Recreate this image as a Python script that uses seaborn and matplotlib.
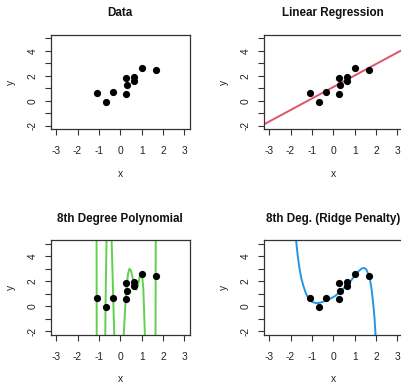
import numpy as np
import pandas as pd
import matplotlib
matplotlib.use("Agg")
import matplotlib.pyplot as plt
import seaborn as sns

# ---- data ----
x_obs = [-1.11, -0.69, -0.33, 0.26, 0.30, 0.29, 0.62, 0.66, 1.02, 1.66]
y_obs = [0.66, -0.06, 0.71, 0.58, 1.24, 1.85, 1.93, 1.61, 2.62, 2.45]

# ridge-penalised 8th degree fit
ridge_x = [-1.74, -1.70, -1.65, -1.58, -1.50, -1.40, -1.28, -1.15, -1.00, -0.85,
           -0.70, -0.55, -0.35, -0.10, 0.10, 0.30, 0.55, 0.80, 1.00, 1.20,
           1.35, 1.45, 1.55, 1.65, 1.73, 1.80, 1.87, 1.93, 1.98]
ridge_y = [5.32, 4.65, 3.90, 3.05, 2.30, 1.65, 1.05, 0.62, 0.38, 0.28,
           0.27, 0.33, 0.46, 0.65, 0.85, 1.15, 1.55, 2.00, 2.45, 2.85,
           3.05, 3.08, 2.95, 2.55, 2.05, 1.30, 0.20, -0.90, -2.30]

x_ticks = [-3, -2, -1, 0, 1, 2, 3]
y_ticks = [-2, -1, 0, 1, 2, 3, 4, 5]
y_ticklabels = ["-2", "", "0", "", "2", "", "4", ""]
titles = ["Data", "Linear Regression", "8th Degree Polynomial", "8th Deg. (Ridge Penalty)"]

df = pd.DataFrame({"x": x_obs, "y": y_obs})

sns.set_style("ticks")
plt.rcParams["font.family"] = ["Liberation Sans", "DejaVu Sans"]

W, H = 402, 383
fig = plt.figure(figsize=(W / 100, H / 100), dpi=100)
fig.patch.set_facecolor("white")


def add_ax(l, t, w=138.5, h=94.4):
    return fig.add_axes([l / W, 1 - (t + h) / H, w / W, h / H])


XLIM = (-3.24, 3.24)
YLIM = (-2.28, 5.28)

axes = [add_ax(51, 35), add_ax(264, 35), add_ax(51, 240.5), add_ax(264, 240.5)]

for ax in axes:
    ax.set_xlim(*XLIM)
    ax.set_ylim(*YLIM)

# linear regression
sns.regplot(data=df, x="x", y="y", ax=axes[1], scatter=False, ci=None,
            truncate=False, color="#DF536B", line_kws={"linewidth": 1.4})
# 8th degree polynomial
sns.regplot(data=df, x="x", y="y", ax=axes[2], scatter=False, ci=None,
            truncate=False, order=8, color="#61D04F", line_kws={"linewidth": 1.4})
# ridge curve
sns.lineplot(x=ridge_x, y=ridge_y, ax=axes[3], sort=False, estimator=None,
             color="#2297E6", linewidth=1.4)

for ax, title in zip(axes, titles):
    sns.scatterplot(data=df, x="x", y="y", ax=ax, color="black", s=27,
                    linewidth=0, zorder=3)
    ax.set_xlim(*XLIM)
    ax.set_ylim(*YLIM)
    ax.set_xticks(x_ticks)
    ax.set_xticklabels([str(v) for v in x_ticks])
    ax.set_yticks(y_ticks)
    ax.set_yticklabels(y_ticklabels, rotation=90, va="center")
    ax.tick_params(axis="both", direction="out", length=4.0, width=0.8,
                   color="#333333", labelcolor="#222222", labelsize=7.4)
    ax.tick_params(axis="x", pad=8.0)
    ax.tick_params(axis="y", pad=5.8)
    for s in ax.spines.values():
        s.set_color("#333333")
        s.set_linewidth(0.9)
        s.set_visible(True)
    ax.set_title(title, fontsize=8.4, fontweight="bold", pad=13.4, color="#111111")
    ax.set_xlabel("x", fontsize=7.4, color="#222222")
    ax.set_ylabel("y", fontsize=7.4, color="#222222")
    ax.xaxis.set_label_coords(0.5, -0.416)
    ax.yaxis.set_label_coords(-0.25, 0.5)
    if ax.get_legend() is not None:
        ax.get_legend().remove()

fig.savefig("out.png", dpi=100, facecolor="white")
